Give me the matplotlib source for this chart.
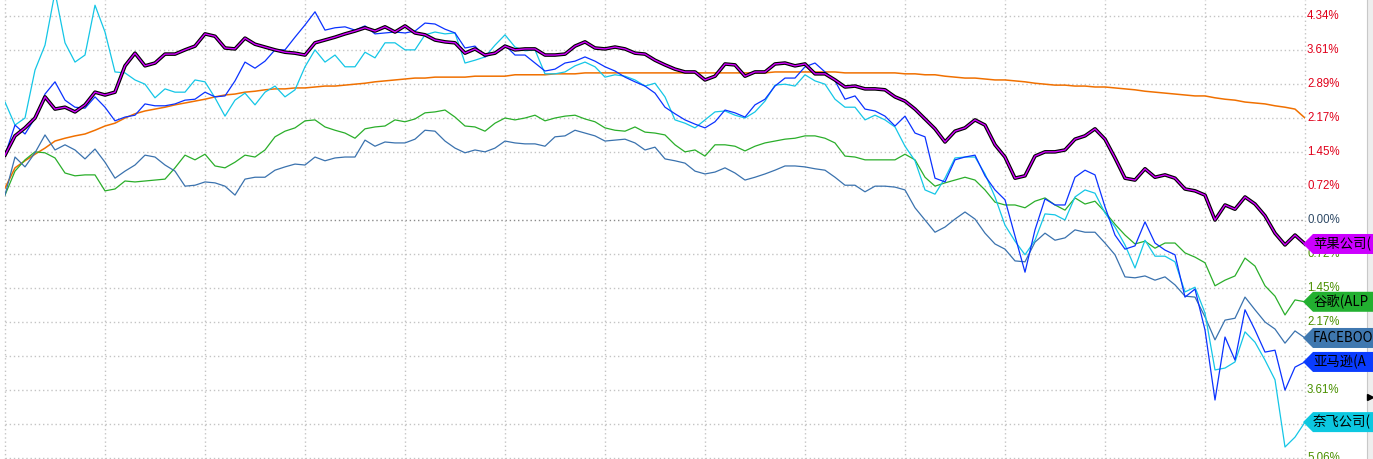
import matplotlib
matplotlib.use("Agg")
import matplotlib.pyplot as plt
import matplotlib.patheffects as pe
from matplotlib.patches import Polygon, Rectangle

plt.rcParams['font.family'] = ['Noto Sans CJK SC', 'DejaVu Sans']

# ---------------- data (percent change) ----------------
apple = [1.38,1.79,1.96,2.17,2.62,2.36,2.40,2.30,2.45,2.72,
         2.66,2.72,3.28,3.55,3.28,3.34,3.53,3.53,3.62,3.70,
         3.96,3.91,3.66,3.64,3.87,3.74,3.68,3.62,3.57,3.55,
         3.51,3.77,3.83,3.89,3.96,4.02,4.09,4.02,4.11,4.00,
         4.13,3.98,3.94,3.83,3.79,3.77,3.55,3.64,3.51,3.55,
         3.70,3.62,3.64,3.64,3.51,3.51,3.53,3.70,3.79,3.66,
         3.64,3.68,3.64,3.55,3.53,3.40,3.30,3.21,3.15,3.15,
         2.98,3.06,3.32,3.30,3.06,3.15,3.15,3.32,3.34,3.28,
         3.32,3.11,3.11,2.98,2.83,2.85,2.79,2.79,2.77,2.62,
         2.53,2.36,2.15,1.94,1.66,1.89,1.96,2.13,2.02,1.60,
         1.34,0.89,0.94,1.36,1.45,1.45,1.49,1.72,1.79,1.94,
         1.72,1.32,0.89,0.85,1.09,0.91,0.96,0.89,0.66,0.62,
         0.53,0.00,0.32,0.23,0.49,0.34,0.09,-0.28,-0.53,-0.32,
         -0.51]

average = [0.68,1.11,1.26,1.40,1.53,1.68,1.74,1.79,1.83,1.91,
           2.00,2.06,2.17,2.26,2.32,2.36,2.40,2.45,2.49,2.53,
           2.57,2.62,2.66,2.68,2.72,2.74,2.77,2.79,2.79,2.81,
           2.81,2.83,2.85,2.85,2.87,2.89,2.91,2.94,2.96,2.98,
           3.00,3.02,3.02,3.04,3.04,3.04,3.04,3.06,3.06,3.06,
           3.06,3.09,3.09,3.09,3.09,3.11,3.11,3.11,3.13,3.13,
           3.13,3.13,3.13,3.13,3.13,3.13,3.13,3.13,3.13,3.13,
           3.13,3.13,3.13,3.13,3.13,3.13,3.13,3.15,3.15,3.15,
           3.15,3.15,3.15,3.15,3.13,3.13,3.13,3.13,3.13,3.13,
           3.11,3.11,3.09,3.09,3.06,3.04,3.02,3.02,3.00,2.98,
           2.98,2.96,2.94,2.91,2.89,2.87,2.87,2.85,2.85,2.83,
           2.83,2.81,2.79,2.77,2.74,2.72,2.70,2.68,2.66,2.64,
           2.64,2.60,2.57,2.55,2.51,2.49,2.47,2.43,2.40,2.36,
           2.17]

google = [0.53,1.04,1.28,1.45,1.43,1.32,1.00,0.94,0.96,0.96,
          0.62,0.66,0.83,0.81,0.83,0.85,0.87,1.11,1.38,1.28,
          1.40,1.15,1.11,1.23,1.38,1.34,1.49,1.77,1.89,1.96,
          2.11,2.13,1.98,1.91,1.85,1.74,1.94,1.98,2.00,2.13,
          2.09,2.15,2.28,2.30,2.34,2.19,2.00,1.98,1.89,2.06,
          2.17,2.13,2.17,2.23,2.11,2.17,2.21,2.23,2.15,2.09,
          1.96,1.91,1.89,1.98,1.87,1.85,1.81,1.60,1.45,1.49,
          1.36,1.60,1.60,1.57,1.47,1.57,1.64,1.68,1.72,1.74,
          1.79,1.79,1.74,1.64,1.36,1.34,1.28,1.28,1.28,1.28,
          1.40,1.28,0.91,0.72,0.79,0.85,0.91,0.85,0.64,0.38,
          0.32,0.32,0.26,0.40,0.47,0.32,0.21,0.47,0.34,0.40,
          0.17,-0.09,-0.32,-0.51,-0.45,-0.60,-0.49,-0.49,-0.70,-0.79,
          -0.91,-1.40,-1.28,-1.19,-0.81,-0.98,-1.40,-1.62,-2.02,-1.70,
          -1.74]

facebook = [0.53,1.34,1.13,1.43,1.81,1.49,1.60,1.49,1.30,1.51,
            1.23,0.89,1.04,1.17,1.38,1.34,1.17,1.04,0.72,0.74,
            0.81,0.79,0.72,0.53,0.87,0.91,0.91,1.06,1.13,1.19,
            1.17,1.34,1.26,1.32,1.34,1.34,1.70,1.57,1.66,1.64,
            1.64,1.72,1.91,1.89,1.68,1.53,1.43,1.49,1.45,1.53,
            1.68,1.64,1.62,1.62,1.57,1.77,1.79,1.91,1.85,1.79,
            1.68,1.70,1.72,1.64,1.49,1.55,1.30,1.26,1.21,1.04,
            0.98,1.02,1.11,1.00,0.85,0.91,0.98,1.06,1.15,1.15,
            1.13,1.09,1.06,0.91,0.74,0.74,0.60,0.72,0.72,0.70,
            0.64,0.26,0.00,-0.26,-0.15,0.02,0.17,0.02,-0.28,-0.51,
            -0.62,-0.87,-0.89,-0.47,-0.28,-0.43,-0.38,-0.21,-0.26,-0.26,
            -0.49,-0.74,-1.21,-1.23,-1.19,-1.28,-1.21,-1.38,-1.62,-1.64,
            -2.06,-2.55,-2.13,-2.09,-1.64,-1.91,-2.17,-2.32,-2.62,-2.36,
            -2.51]

amazon = [1.38,2.02,1.83,2.17,2.68,2.94,2.55,2.40,2.38,2.62,
          2.40,2.11,2.19,2.23,2.47,2.43,2.43,2.47,2.55,2.57,
          2.72,2.62,2.64,2.96,3.36,3.23,3.38,3.62,3.62,3.89,
          4.15,4.43,4.04,4.09,4.11,4.04,4.13,3.96,3.98,4.00,
          3.98,4.02,4.19,4.17,4.06,3.98,3.66,3.70,3.47,3.57,
          3.72,3.51,3.51,3.34,3.17,3.21,3.34,3.38,3.47,3.38,
          3.26,3.17,3.04,2.94,2.85,2.70,2.40,2.26,2.13,2.04,
          1.96,2.09,2.34,2.28,2.19,2.45,2.57,2.85,3.02,3.02,
          3.26,3.34,3.15,2.96,2.57,2.64,2.36,2.32,2.21,2.00,
          2.21,1.85,1.77,0.89,0.81,1.28,1.34,1.38,0.94,0.64,
          0.43,-0.34,-1.11,-0.21,0.45,0.32,0.32,0.91,1.06,0.96,
          0.28,-0.32,-0.62,-0.55,-0.04,-0.49,-0.64,-0.74,-1.64,-1.47,
          -2.34,-3.83,-2.49,-2.98,-1.91,-2.34,-2.81,-2.77,-3.62,-3.13,
          -3.02]

netflix = [2.51,2.02,2.17,3.19,3.72,4.85,3.77,3.36,3.51,4.57,
           4.00,3.15,3.13,2.98,2.89,2.60,2.79,2.72,2.72,2.98,
           2.94,2.60,2.21,2.55,2.70,2.45,2.72,2.85,2.62,2.77,
           3.26,3.62,3.36,3.51,3.26,3.26,3.57,3.45,3.77,3.77,
           3.62,3.62,3.94,4.00,3.96,3.98,3.34,3.40,3.47,3.72,
           3.94,3.68,3.60,3.62,3.11,3.11,3.15,3.28,3.36,3.26,
           3.04,3.09,3.06,2.98,2.85,2.91,2.62,2.13,2.06,1.96,
           2.13,2.30,2.32,2.23,2.17,2.30,2.53,2.87,2.89,2.85,
           3.09,2.96,2.89,2.57,2.40,2.40,2.13,2.23,2.13,1.98,
           1.57,1.26,0.64,0.55,0.89,1.32,1.34,1.34,0.98,0.49,
           -0.11,-0.45,-0.74,-0.43,0.13,0.11,0.00,0.49,0.64,0.57,
           0.15,-0.15,-0.53,-1.02,-0.43,-0.77,-0.77,-0.89,-1.53,-1.43,
           -1.98,-3.19,-3.15,-3.02,-2.38,-2.60,-2.98,-3.40,-4.83,-4.62,
           -4.30]

tick_step = 0.7233
tick_idx = list(range(-7, 7))
# labels hidden behind the flags in the reference are left empty
tick_labels = ["5.06%", "", "3.61%", "", "2.17%", "1.45%", "0.72%", "0.00%",
               "0.72%", "1.45%", "2.17%", "2.89%", "3.61%", "4.34%"]

tag_names = ["苹果公司(", "谷歌(ALP", "FACEBOO", "亚马逊(A", "奈飞公司("]

# ---------------- figure ----------------
W, H = 1373, 459
fig = plt.figure(figsize=(W / 100, H / 100), dpi=100)
fig.patch.set_facecolor("white")

ax = fig.add_axes([5 / W, 0, 1300 / W, 1])
ax.set_xlim(0, 130)
ax.set_ylim(-5.085, 4.681)
for s in ax.spines.values():
    s.set_visible(False)
ax.set_xticks([])
ax.set_yticks([])

grid_c = "#c4c4c4"
dot = (0, (1, 2))
for k in tick_idx:
    ax.axhline(k * tick_step, color="#8a8a8a" if k == 0 else grid_c, lw=1.0,
               linestyle=dot, zorder=1)
for xv in range(0, 131, 10):
    ax.axvline(xv, color=grid_c, lw=1.0, linestyle=dot, zorder=1, clip_on=False)

x = list(range(len(apple)))
lw = 0.9
ax.plot(x, average, color="#f07000", lw=1.1, zorder=3)
ax.plot(x, google, color="#2aae2a", lw=lw, zorder=3)
ax.plot(x, facebook, color="#3a72ae", lw=lw, zorder=3)
ax.plot(x, netflix, color="#14c6e6", lw=lw, zorder=4)
ax.plot(x, amazon, color="#0a32ff", lw=lw, zorder=5)
ax.plot(x, apple, color="#d400ff", lw=1.0, zorder=6,
        path_effects=[pe.Stroke(linewidth=2.6, foreground="black"), pe.Normal()])

# ---------------- overlay (pixel x, data y) ----------------
ov = fig.add_axes([0, 0, 1, 1], facecolor="none")
ov.set_xlim(0, W)
ov.set_ylim(-5.085, 4.681)
ov.axis("off")

ov.add_patch(Rectangle((1367, -5.085), 6, 9.766, facecolor="#eeeeee",
                       edgecolor="none", zorder=1))
ov.plot([1367, 1367], [-5.085, 4.681], color="#c8c8c8", lw=0.8, zorder=1)

for k, lab in zip(tick_idx, tick_labels):
    if not lab:
        continue
    v = k * tick_step
    col = "#e0001a" if k > 0 else ("#2f4a66" if k == 0 else "#4a9000")
    ov.text(1307, v, lab, color=col, fontsize=8.3, family="Liberation Sans",
            ha="left", va="center", zorder=2)

ppu = 459 / 9.766  # pixels per percent unit
half = 10 / ppu
tags = [(apple[-1], "#cc00ff"), (google[-1], "#22b030"), (facebook[-1], "#3f78b0"),
        (amazon[-1], "#0a3cff"), (netflix[-1], "#0cc8e0")]
for (yv, col), name in zip(tags, tag_names):
    poly = Polygon([(1303, yv), (1313, yv + half), (1373, yv + half),
                    (1373, yv - half), (1313, yv - half)], closed=True,
                   facecolor=col, edgecolor="none", zorder=5)
    ov.add_patch(poly)
    ov.text(1313, yv, name, color="black", fontsize=9.6, ha="left", va="center",
            family=['Noto Sans CJK SC', 'DejaVu Sans'], zorder=6, clip_on=True)

ov.plot([1370], [(220 - 397) / ppu], marker=">", color="black", markersize=5, zorder=7)

fig.savefig("out.png", dpi=100)
